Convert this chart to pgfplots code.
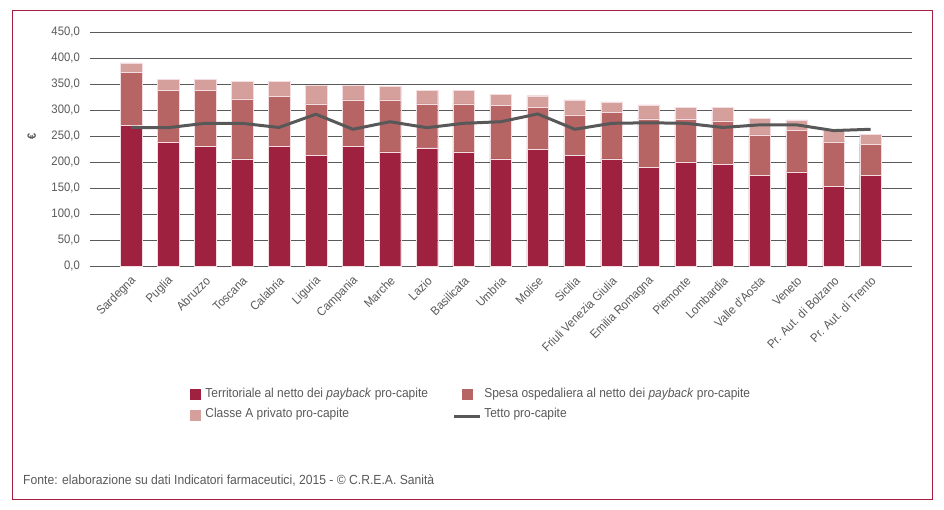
\documentclass[border=0pt]{standalone}
\usepackage{fontspec}
\setmainfont{Liberation Sans}[FakeStretch=0.92]
\usepackage{pgfplots}
\usepackage{pgfplotstable}
\pgfplotsset{compat=1.18}
\definecolor{dark}{HTML}{9F2140}
\definecolor{med}{HTML}{B66464}
\definecolor{light}{HTML}{D5A09C}
\definecolor{linegray}{HTML}{585858}
\definecolor{gridgray}{HTML}{5A5A5A}
\definecolor{txtgray}{HTML}{595959}
\definecolor{framecol}{HTML}{A61E3F}
\definecolor{barborder}{HTML}{F3DDE0}
\pgfplotsset{common/.style={at={(90bp,243.7bp)}, anchor=south west, scale only axis,
  width=822bp, height=234bp, xmin=-1.11, xmax=21.12, ymin=0, ymax=450}}
\pgfplotstableread{
x dark med light tetto
0 270.5 102.5 18 267
1 238.4 99.3 21.3 266.6
2 231.2 106.5 21.3 275
3 206.7 115.3 33.7 275
4 231.2 95.4 29.1 267
5 213.8 98.7 35.5 292.5
6 231.2 88.8 28 263.5
7 220 100 26 278
8 228 84.5 25.5 266.6
9 220 92.5 25.5 275
10 206.7 102.3 22 278
11 224.8 80.2 23 293
12 213.8 77.2 29 263.5
13 206.7 89 20.3 275
14 190 93.5 27.1 276
15 201 82 23 275
16 196.4 83.2 26.4 267
17 175 77.5 32.3 272
18 181.5 79.5 20.5 272
19 154 85.5 22.5 261
20 175 60 19 263.5
}\data
\begin{document}
\begin{tikzpicture}
\path[use as bounding box] (0,0) rectangle (944bp,510bp);
\draw[framecol, line width=1.3bp] (12.3bp,10.7bp) rectangle (932.3bp,499.3bp);
\node[anchor=west, inner sep=0pt, text=txtgray, font=\fontsize{13.2bp}{15bp}\selectfont] at (23bp,30bp) {Fonte: elaborazione su dati Indicatori farmaceutici, 2015 - © C.R.E.A. Sanità};
\begin{axis}[common, ybar stacked, bar width=0.587,
  ytick={0,50,...,450}, xtick={0,1,...,20},
  xticklabels={Sardegna,Puglia,Abruzzo,Toscana,Calabria,Liguria,Campania,Marche,Lazio,Basilicata,Umbria,Molise,Sicilia,Friuli Venezia Giulia,Emilia Romagna,Piemonte,Lombardia,Valle d'Aosta,Veneto,Pr. Aut. di Bolzano,Pr. Aut. di Trento},
  ymajorgrids, grid style={gridgray, line width=0.9bp},
  axis line style={draw=none}, major tick length=0pt,
  tick label style={font=\fontsize{12.3bp}{14bp}\selectfont, text=txtgray},
  /pgf/number format/.cd, fixed, fixed zerofill, precision=1, use comma, 1000 sep={}, assume math mode=true,
  /pgfplots/.cd,
  yticklabel style={anchor=east, inner sep=0pt, xshift=-10bp},
  xticklabel style={xshift=3bp, yshift=-12.5bp, rotate=45, anchor=east, inner sep=0pt},
  ylabel={\textbf{€}}, ylabel style={at={(axis description cs:-0.0709,0.557)}, anchor=center, text=txtgray, font=\fontsize{12bp}{14bp}\selectfont},
]
\addplot[fill=dark, draw=barborder, line width=0.4bp] table[x=x,y=dark]{\data};
\addplot[fill=med, draw=barborder, line width=0.4bp] table[x=x,y=med]{\data};
\addplot[fill=light, draw=barborder, line width=0.4bp] table[x=x,y=light]{\data};
\end{axis}
\begin{axis}[common, hide axis,
  legend columns=2, legend cell align=left,
  legend style={at={(axis description cs:0.1217,-0.520)}, anchor=north west, draw=none, fill=none,
    inner sep=0pt, outer sep=0pt, font=\fontsize{13bp}{15bp}\selectfont, text=txtgray, row sep=8bp,
    nodes={inner sep=0pt, text height=9.5bp, text depth=3bp},
    /tikz/column 1/.style={column sep=5bp}, /tikz/column 2/.style={column sep=25bp},
    /tikz/column 3/.style={column sep=2.3bp}},
]
\addplot[linegray, line width=3bp, line join=round, mark=none, forget plot] table[x=x,y=tetto]{\data};
\addlegendimage{legend image code/.code={\fill[dark] (-5bp,-5bp) rectangle (5bp,5bp);}}
\addlegendentry{Territoriale al netto dei \textit{payback} pro-capite}
\addlegendimage{legend image code/.code={\fill[med] (-5bp,-5bp) rectangle (5bp,5bp);}}
\addlegendentry{Spesa ospedaliera al netto dei \textit{payback} pro-capite}
\addlegendimage{legend image code/.code={\fill[light] (-5bp,-5bp) rectangle (5bp,5bp);}}
\addlegendentry{Classe A privato pro-capite}
\addlegendimage{legend image code/.code={\draw[linegray, line width=3bp] (-13bp,-2bp) -- (13bp,-2bp);}}
\addlegendentry{Tetto pro-capite}
\end{axis}
\end{tikzpicture}
\end{document}
